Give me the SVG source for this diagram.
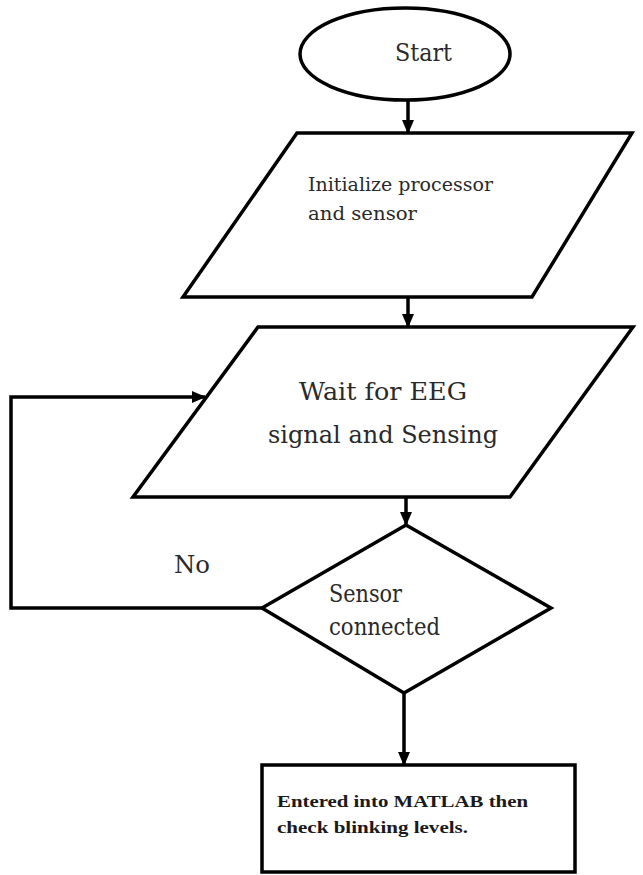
<svg xmlns="http://www.w3.org/2000/svg" width="643" height="875" viewBox="0 0 643 875">
<style>
.shape{fill:#fff;stroke:#000;stroke-width:3.5;stroke-linejoin:miter}
.conn{fill:none;stroke:#000;stroke-width:3.5}
text{font-family:'DejaVu Serif',serif;fill:#2a2a2a}
.b{font-family:'Liberation Serif','DejaVu Serif',serif;font-weight:bold;fill:#1a1a1a}
</style>
<defs>
<marker id="arr" markerUnits="userSpaceOnUse" markerWidth="14" markerHeight="12" refX="13" refY="6" orient="auto">
<path d="M0,0 L14,6 L0,12 z" fill="#000"/>
</marker>
</defs>
<rect width="643" height="875" fill="#fff"/>
<g id="start">
<ellipse class="shape" cx="405" cy="54" rx="105" ry="46"/>
<text x="395" y="61" font-size="25" textLength="57" lengthAdjust="spacingAndGlyphs">Start</text>
</g>
<g id="init">
<polygon class="shape" points="297,133 632,133 532,297 183,297"/>
<text x="308" y="191" font-size="19" textLength="185" lengthAdjust="spacingAndGlyphs">Initialize processor</text>
<text x="308" y="220" font-size="19" textLength="109" lengthAdjust="spacingAndGlyphs">and sensor</text>
</g>
<g id="wait">
<polygon class="shape" points="258,327 633,327 510,497 133,497"/>
<text x="299" y="400" font-size="25" textLength="168" lengthAdjust="spacingAndGlyphs">Wait for EEG</text>
<text x="268" y="443" font-size="25" textLength="230" lengthAdjust="spacingAndGlyphs">signal and Sensing</text>
</g>
<g id="decision">
<polygon class="shape" points="406,525 551,608 404,693 262,608"/>
<text x="329" y="602" font-size="24" textLength="73" lengthAdjust="spacingAndGlyphs">Sensor</text>
<text x="329" y="635" font-size="24" textLength="111" lengthAdjust="spacingAndGlyphs">connected</text>
</g>
<g id="matlab">
<rect class="shape" x="262" y="765" width="313" height="107"/>
<text class="b" x="277" y="807" font-size="17" textLength="251" lengthAdjust="spacingAndGlyphs">Entered into MATLAB then</text>
<text class="b" x="277" y="833" font-size="17" textLength="191" lengthAdjust="spacingAndGlyphs">check blinking levels.</text>
</g>
<g id="connectors">
<line class="conn" x1="408" y1="100" x2="408" y2="133" marker-end="url(#arr)"/>
<line class="conn" x1="408" y1="297" x2="408" y2="327" marker-end="url(#arr)"/>
<line class="conn" x1="406" y1="497" x2="406" y2="525" marker-end="url(#arr)"/>
<polyline class="conn" points="262,608 11,608 11,397 205,397" marker-end="url(#arr)"/>
<line class="conn" x1="404" y1="693" x2="404" y2="765" marker-end="url(#arr)"/>
<text x="174" y="573" font-size="24" textLength="36" lengthAdjust="spacingAndGlyphs">No</text>
</g>
</svg>
